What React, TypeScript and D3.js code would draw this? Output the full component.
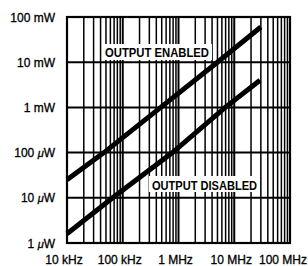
import * as d3 from 'd3';

// frequency (Hz) vs power (W)
const enabledFreq = [1e4, 4.6e4, 4.8e5, 5e6, 3e7];
const enabledPower = [25e-6, 100e-6, 1e-3, 10e-3, 60e-3];
const disabledFreq = [1e4, 6.6e4, 7.8e5, 6.9e6, 2.9e7];
const disabledPower = [1.6e-6, 10e-6, 100e-6, 1e-3, 4e-3];

const xTicks = [1e4, 1e5, 1e6, 1e7, 1e8];
const xTickLabels = ['10 kHz', '100 kHz', '1 MHz', '10 MHz', '100 MHz'];
const yTicks = [1e-6, 1e-5, 1e-4, 1e-3, 1e-2, 1e-1];
const yTickNums = ['1', '10', '100', '1', '10', '100'];
const yTickUnits = ['\u03bcW', '\u03bcW', '\u03bcW', 'mW', 'mW', 'mW'];

const W = 308;
const H = 266;
const FONT = '"Liberation Sans", Arial, Helvetica, sans-serif';

export default function App() {
  const x = d3.scaleLog().domain([1e4, 1e8]).range([67, 290]);
  const y = d3.scaleLog().domain([1e-6, 1e-1]).range([243, 17]);

  // minor vertical grid: 2..9 in every decade
  const minor: number[] = [];
  for (let k = 4; k < 8; k++) {
    for (let m = 2; m <= 9; m++) minor.push(m * Math.pow(10, k));
  }

  const line = d3
    .line<[number, number]>()
    .x((d) => x(d[0]))
    .y((d) => y(d[1]));

  const enabled = enabledFreq.map((f, i) => [f, enabledPower[i]] as [number, number]);
  const disabled = disabledFreq.map((f, i) => [f, disabledPower[i]] as [number, number]);

  const [x0, x1] = x.range();
  const [y0, y1] = y.range();

  return (
    <svg
      width={W}
      height={H}
      style={{ position: 'absolute', left: 0, top: 0, background: '#fff' }}
      fontFamily={FONT}
    >
      <rect width={W} height={H} fill="#fff" />

      {/* grid */}
      {minor.map((v) => (
        <line key={'m' + v} x1={x(v)} x2={x(v)} y1={y1} y2={y0} stroke="#000" strokeWidth={1.5} />
      ))}
      {xTicks.map((v) => (
        <line key={'x' + v} x1={x(v)} x2={x(v)} y1={y1} y2={y0} stroke="#000" strokeWidth={2} />
      ))}
      {yTicks.map((v) => (
        <line key={'y' + v} x1={x0} x2={x1} y1={y(v)} y2={y(v)} stroke="#000" strokeWidth={2} />
      ))}
      <rect x={x0} y={y1} width={x1 - x0} height={y0 - y1} fill="none" stroke="#000" strokeWidth={2.2} />

      {/* label boxes */}
      <rect x={102} y={44} width={110} height={16} fill="#fff" />
      <text
        x={105}
        y={57}
        fontSize={13}
        fontWeight="bold"
        textLength={104}
        lengthAdjust="spacingAndGlyphs"
        fill="#000"
      >
        OUTPUT ENABLED
      </text>
      <rect x={149} y={176} width={111} height={16} fill="#fff" />
      <text
        x={152}
        y={190}
        fontSize={13}
        fontWeight="bold"
        textLength={105}
        lengthAdjust="spacingAndGlyphs"
        fill="#000"
      >
        OUTPUT DISABLED
      </text>

      {/* curves */}
      <path d={line(enabled) ?? ''} fill="none" stroke="#000" strokeWidth={5} />
      <path d={line(disabled) ?? ''} fill="none" stroke="#000" strokeWidth={5} />

      {/* y axis labels */}
      {yTicks.map((v, i) => (
        <text
          key={'yl' + v}
          x={55}
          y={y(v) + 4.5}
          fontSize={12}
          textAnchor="end"
          fill="#000"
          stroke="#000"
          strokeWidth={0.3}
        >
          {yTickNums[i]}{' '}
          {yTickUnits[i].startsWith('\u03bc') ? (
            <>
              <tspan fontStyle="italic" fontSize={11}>{'\u03bc'}</tspan>
              <tspan>W</tspan>
            </>
          ) : (
            yTickUnits[i]
          )}
        </text>
      ))}

      {/* x axis labels */}
      {xTicks.map((v, i) => (
        <text
          key={'xl' + v}
          x={Math.min(x(v) - 3, W - 25)}
          y={264}
          fontSize={12}
          textAnchor="middle"
          fill="#000"
          stroke="#000"
          strokeWidth={0.3}
        >
          {xTickLabels[i]}
        </text>
      ))}
    </svg>
  );
}
